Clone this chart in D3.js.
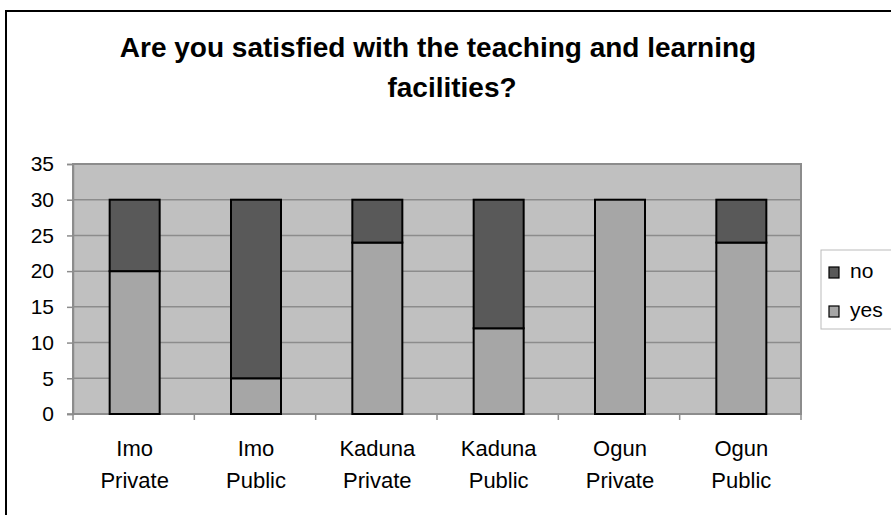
<!DOCTYPE html>
<html><head><meta charset="utf-8">
<script src="https://cdn.jsdelivr.net/npm/d3@7"></script>
<style>body{margin:0;background:#fff}svg{display:block}text{font-family:"Liberation Sans",Arial,sans-serif}</style>
</head><body><svg id="c" width="891" height="515"></svg>
<script>
const categories = [["Imo","Private"],["Imo","Public"],["Kaduna","Private"],["Kaduna","Public"],["Ogun","Private"],["Ogun","Public"]];
const yesValues = [20, 5, 24, 12, 30, 24];
const noValues = [10, 25, 6, 18, 0, 6];
const yTicks = [0,5,10,15,20,25,30,35];
const seriesNames = ["no","yes"];
const colors = {yes:"#a6a6a6", no:"#595959"};

const svg = d3.select("#c");
svg.append("rect").attr("x",6).attr("y",11).attr("width",900).attr("height",520)
  .attr("fill","#fff").attr("stroke","#000").attr("stroke-width",2);

const L=73,R=801,T=164,B=414;
const keys = categories.map(c=>c.join(" "));
const x = d3.scaleBand().domain(keys).range([L,R]).paddingInner(0).paddingOuter(0);
const y = d3.scaleLinear().domain([0,35]).range([B,T]);

svg.append("rect").attr("x",L).attr("y",T).attr("width",R-L).attr("height",B-T).attr("fill","#c0c0c0");
svg.append("g").selectAll("line").data(yTicks.filter(d=>d>0&&d<35)).join("line")
  .attr("x1",L).attr("x2",R).attr("y1",d=>y(d)).attr("y2",d=>y(d))
  .attr("stroke","#8c8c8c").attr("stroke-width",1.5);
svg.append("rect").attr("x",L).attr("y",T).attr("width",R-L).attr("height",B-T)
  .attr("fill","none").attr("stroke","#8c8c8c").attr("stroke-width",2);

const ya = d3.axisLeft(y).tickValues(yTicks).tickSize(6).tickPadding(13);
const gy = svg.append("g").attr("transform",`translate(${L},0)`).call(ya);
gy.select(".domain").attr("stroke","#8c8c8c").attr("stroke-width",1.5);
gy.selectAll(".tick line").attr("stroke","#8c8c8c").attr("stroke-width",1.5);
gy.selectAll("text").attr("font-size",21).attr("fill","#000").attr("font-family","Liberation Sans, Arial, sans-serif");

const bounds = keys.map(k=>x(k)).concat([R]);
svg.append("g").selectAll("line").data(bounds).join("line")
  .attr("x1",d=>d).attr("x2",d=>d).attr("y1",B).attr("y2",B+6)
  .attr("stroke","#8c8c8c").attr("stroke-width",1.5);
svg.append("line").attr("x1",L-6).attr("x2",R).attr("y1",B).attr("y2",B).attr("stroke","#8c8c8c").attr("stroke-width",1.5);

const cx = (i)=>x(keys[i])+x.bandwidth()/2+1;
const lab = svg.append("g").selectAll("text").data(categories).join("text")
  .attr("x",(d,i)=>cx(i)).attr("y",456)
  .attr("text-anchor","middle").attr("font-size",22).attr("fill","#000");
lab.append("tspan").text(d=>d[0]);
lab.append("tspan").attr("x",(d,i)=>cx(i)).attr("dy",32).text(d=>d[1]);

const bw = 50;
const data = keys.map((k,i)=>({k,yes:yesValues[i],no:noValues[i]}));
const stack = d3.stack().keys(["yes","no"])(data);
svg.append("g").selectAll("g").data(stack).join("g").attr("fill",s=>colors[s.key])
  .selectAll("rect").data(s=>s.filter(d=>d[1]-d[0]>0)).join("rect")
  .attr("x",d=>x(d.data.k)+x.bandwidth()/2+1-bw/2).attr("width",bw)
  .attr("y",d=>y(d[1])).attr("height",d=>y(d[0])-y(d[1]))
  .attr("stroke","#000").attr("stroke-width",2);

svg.append("text").attr("x",438).attr("y",57).attr("text-anchor","middle")
  .attr("font-size",28).attr("font-weight","bold").text("Are you satisfied with the teaching and learning");
svg.append("text").attr("x",452).attr("y",97).attr("text-anchor","middle")
  .attr("font-size",28).attr("font-weight","bold").text("facilities?");

svg.append("rect").attr("x",821).attr("y",250).attr("width",80).attr("height",79)
  .attr("fill","#fff").attr("stroke","#bbb").attr("stroke-width",1);
const lg = svg.append("g").selectAll("g").data(seriesNames).join("g")
  .attr("transform",(d,i)=>`translate(829,${267+i*39})`);
lg.append("rect").attr("width",10).attr("height",11).attr("fill",d=>colors[d]).attr("stroke","#000").attr("stroke-width",1.2);
lg.append("text").attr("x",21).attr("y",11).attr("font-size",21).text(d=>d);
</script></body></html>
